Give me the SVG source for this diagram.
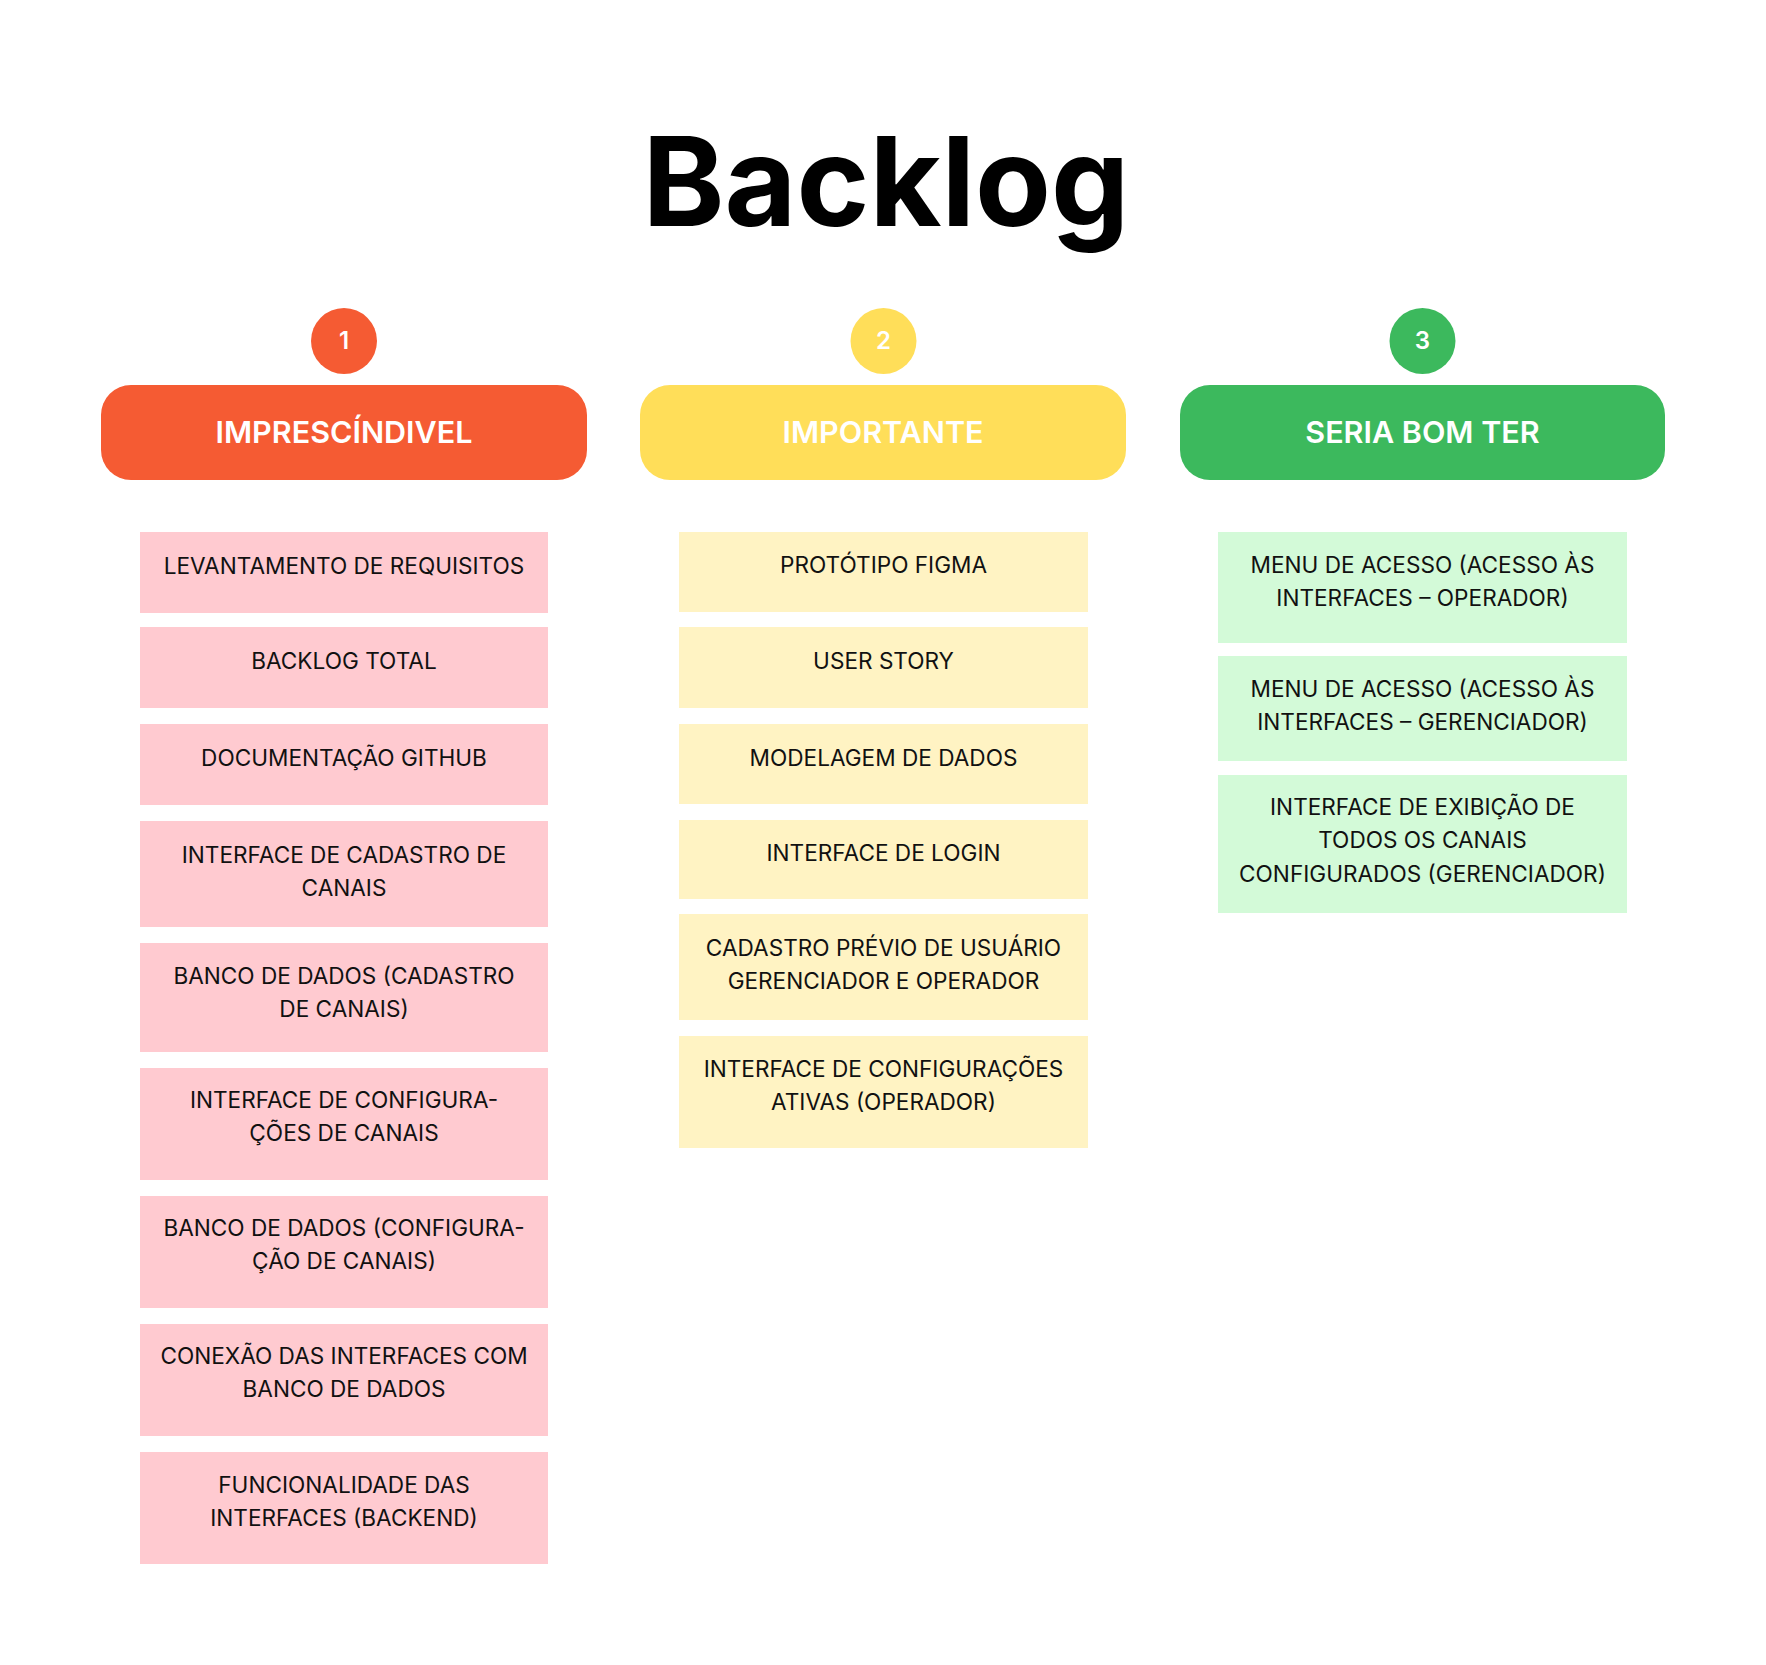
<svg xmlns="http://www.w3.org/2000/svg" width="1766" height="1665" viewBox="0 0 1766 1665">
  <style>
    .title { font-family: Inter, "Noto Sans", "Liberation Sans", sans-serif; font-weight: 700; font-size: 124px; fill: #000; }
    .num { font-family: Inter, "Noto Sans", "Liberation Sans", sans-serif; font-weight: 600; font-size: 24px; fill: #fff; text-anchor: middle; }
    .head { font-family: Inter, "Noto Sans", "Liberation Sans", sans-serif; font-weight: 600; font-size: 30.5px; fill: #fff; text-anchor: middle; }
    .item { font-family: Inter, "Noto Sans", "Liberation Sans", sans-serif; font-weight: 400; font-size: 22.6px; fill: #111; text-anchor: middle; }
    .c1 { fill: #F55B33; }
    .c2 { fill: #FFDE59; }
    .c3 { fill: #3CB95D; }
    .p1 { fill: #FFCAD0; }
    .p2 { fill: #FFF3C3; }
    .p3 { fill: #D3FAD8; }
  </style>
  <rect width="1766" height="1665" fill="#fff"/>

  <text class="title" x="886" y="226" text-anchor="middle">Backlog</text>

  <!-- priority column headers -->
  <g id="badge-1"><circle class="c1" cx="344" cy="341" r="33"/><text class="num" x="344" y="349">1</text></g>
  <g id="header-1"><rect class="c1" x="101" y="385" width="486" height="95" rx="30"/><text class="head" x="344" y="443">IMPRESCÍNDIVEL</text></g>

  <g id="badge-2"><circle class="c2" cx="883.5" cy="341" r="33"/><text class="num" x="883.5" y="349">2</text></g>
  <g id="header-2"><rect class="c2" x="640" y="385" width="486" height="95" rx="30"/><text class="head" x="883" y="443">IMPORTANTE</text></g>

  <g id="badge-3"><circle class="c3" cx="1422.5" cy="341" r="33"/><text class="num" x="1422.5" y="349">3</text></g>
  <g id="header-3"><rect class="c3" x="1180" y="385" width="485" height="95" rx="30"/><text class="head" x="1422.5" y="443">SERIA BOM TER</text></g>

  <!-- column 1 items -->
  <g id="c1-i1"><rect class="p1" x="140" y="532" width="408" height="81"/><text class="item" x="344" y="574">LEVANTAMENTO DE REQUISITOS</text></g>
  <g id="c1-i2"><rect class="p1" x="140" y="627" width="408" height="81"/><text class="item" x="344" y="669">BACKLOG TOTAL</text></g>
  <g id="c1-i3"><rect class="p1" x="140" y="724" width="408" height="81"/><text class="item" x="344" y="766">DOCUMENTAÇÃO GITHUB</text></g>
  <g id="c1-i4"><rect class="p1" x="140" y="821" width="408" height="106"/><text class="item" x="344" y="863">INTERFACE DE CADASTRO DE</text><text class="item" x="344" y="896">CANAIS</text></g>
  <g id="c1-i5"><rect class="p1" x="140" y="943" width="408" height="109"/><text class="item" x="344" y="984">BANCO DE DADOS (CADASTRO</text><text class="item" x="344" y="1017">DE CANAIS)</text></g>
  <g id="c1-i6"><rect class="p1" x="140" y="1068" width="408" height="112"/><text class="item" x="344" y="1108">INTERFACE DE CONFIGURA-</text><text class="item" x="344" y="1141">ÇÕES DE CANAIS</text></g>
  <g id="c1-i7"><rect class="p1" x="140" y="1196" width="408" height="112"/><text class="item" x="344" y="1236">BANCO DE DADOS (CONFIGURA-</text><text class="item" x="344" y="1269">ÇÃO DE CANAIS)</text></g>
  <g id="c1-i8"><rect class="p1" x="140" y="1324" width="408" height="112"/><text class="item" x="344" y="1364">CONEXÃO DAS INTERFACES COM</text><text class="item" x="344" y="1397">BANCO DE DADOS</text></g>
  <g id="c1-i9"><rect class="p1" x="140" y="1452" width="408" height="112"/><text class="item" x="344" y="1493">FUNCIONALIDADE DAS</text><text class="item" x="344" y="1526">INTERFACES (BACKEND)</text></g>

  <!-- column 2 items -->
  <g id="c2-i1"><rect class="p2" x="679" y="532" width="409" height="80"/><text class="item" x="883.5" y="573">PROTÓTIPO FIGMA</text></g>
  <g id="c2-i2"><rect class="p2" x="679" y="627" width="409" height="81"/><text class="item" x="883.5" y="669">USER STORY</text></g>
  <g id="c2-i3"><rect class="p2" x="679" y="724" width="409" height="80"/><text class="item" x="883.5" y="766">MODELAGEM DE DADOS</text></g>
  <g id="c2-i4"><rect class="p2" x="679" y="820" width="409" height="79"/><text class="item" x="883.5" y="861">INTERFACE DE LOGIN</text></g>
  <g id="c2-i5"><rect class="p2" x="679" y="914" width="409" height="106"/><text class="item" x="883.5" y="956">CADASTRO PRÉVIO DE USUÁRIO</text><text class="item" x="883.5" y="989">GERENCIADOR E OPERADOR</text></g>
  <g id="c2-i6"><rect class="p2" x="679" y="1036" width="409" height="112"/><text class="item" x="883.5" y="1077">INTERFACE DE CONFIGURAÇÕES</text><text class="item" x="883.5" y="1110">ATIVAS (OPERADOR)</text></g>

  <!-- column 3 items -->
  <g id="c3-i1"><rect class="p3" x="1218" y="532" width="409" height="111"/><text class="item" x="1422.5" y="573">MENU DE ACESSO (ACESSO ÀS</text><text class="item" x="1422.5" y="606">INTERFACES – OPERADOR)</text></g>
  <g id="c3-i2"><rect class="p3" x="1218" y="656" width="409" height="105"/><text class="item" x="1422.5" y="697">MENU DE ACESSO (ACESSO ÀS</text><text class="item" x="1422.5" y="730">INTERFACES – GERENCIADOR)</text></g>
  <g id="c3-i3"><rect class="p3" x="1218" y="775" width="409" height="138"/><text class="item" x="1422.5" y="815">INTERFACE DE EXIBIÇÃO DE</text><text class="item" x="1422.5" y="848">TODOS OS CANAIS</text><text class="item" x="1422.5" y="882">CONFIGURADOS (GERENCIADOR)</text></g>

  <!-- no connectors in this board -->
  <g id="connectors"/>
</svg>
